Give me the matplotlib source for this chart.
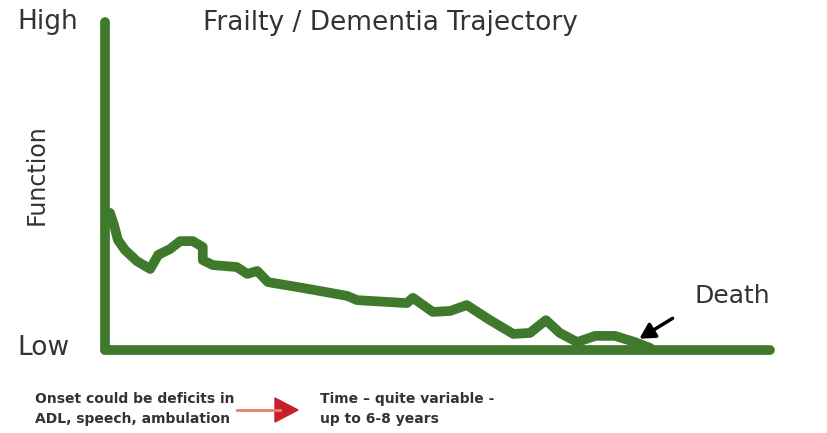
import matplotlib
matplotlib.use("Agg")
import matplotlib.pyplot as plt

# trajectory: time (0-100, arbitrary) vs function (0-100)
time_pts = [0, 0.75, 1.35, 1.95, 3.0, 4.8, 6.8, 8.0, 9.8, 11.3, 13.2, 14.7, 14.7,
            16.2, 19.8, 21.4, 22.9, 24.5, 29.8, 36.4, 37.9, 45.4, 46.3, 49.3,
            51.9, 54.4, 57.9, 61.4, 63.9, 66.3, 68.4, 71.0, 73.7, 76.7, 79.7, 82.0]
function_pts = [38.1, 41.8, 38.1, 33.5, 30.5, 27.1, 24.7, 29.0, 30.8, 33.2, 33.2,
                31.4, 27.4, 25.9, 25.3, 23.2, 24.1, 20.7, 18.9, 16.5, 15.2, 14.3,
                15.9, 11.6, 11.9, 13.7, 9.1, 4.9, 5.2, 9.1, 5.2, 2.4, 4.3, 4.3,
                2.4, 0.6]

death_tail = (85.7, 10.1)
death_tip = (80.0, 3.0)

title = "Frailty / Dementia Trajectory"
onset_text = "Onset could be deficits in\nADL, speech, ambulation"
time_text = "Time \u2013 quite variable -\nup to 6-8 years"

green = "#3f7a2c"
grey = "#333333"


def figpx(x, y):
    # pixel position (from bottom left) -> figure fraction
    return (x / 827, y / 433)


fig = plt.figure(figsize=(8.27, 4.33), dpi=100)
ax = fig.add_axes([105 / 827, 83 / 433, 665 / 827, 328 / 433])
ax.set_xlim(0, 100)
ax.set_ylim(0, 100)
for s in ("top", "right"):
    ax.spines[s].set_visible(False)
for s in ("left", "bottom"):
    ax.spines[s].set_color(green)
    ax.spines[s].set_linewidth(7)
    ax.spines[s].set_capstyle("round")
ax.set_xticks([])
ax.set_yticks([])

ax.plot(time_pts, function_pts, color=green, lw=7, solid_joinstyle="round",
        solid_capstyle="round", clip_on=False)

ax.annotate("", xy=death_tip, xytext=death_tail,
            arrowprops=dict(arrowstyle="-|>,head_length=0.9,head_width=0.5",
                            color="black", lw=2.5))
ax.text(94.4, 16.5, "Death", fontsize=18, color=grey, ha="center", va="center")

fig.text(*figpx(17, 411), "High", fontsize=19, color=grey, ha="left", va="center")
fig.text(*figpx(17, 85), "Low", fontsize=19, color=grey, ha="left", va="center")
fig.text(*figpx(37, 258), "Function", fontsize=17, color=grey, ha="center",
         va="center", rotation=90)
fig.text(*figpx(390, 410), title, fontsize=19, color=grey, ha="center", va="center")
fig.text(*figpx(35, 24), onset_text, fontsize=10, color=grey, ha="left",
         va="center", linespacing=1.6, fontweight="bold")
fig.text(*figpx(320, 24), time_text, fontsize=10, color=grey, ha="left",
         va="center", linespacing=1.6, fontweight="bold")

fig.add_artist(plt.Line2D([237 / 827, 280 / 827], [23 / 433, 23 / 433],
                          color="#e8826f", lw=2))
fig.add_artist(plt.Polygon([figpx(275, 35), figpx(275, 11), figpx(298, 23)],
                           closed=True, color="#c8202a"))

fig.savefig("out.png", dpi=100)
